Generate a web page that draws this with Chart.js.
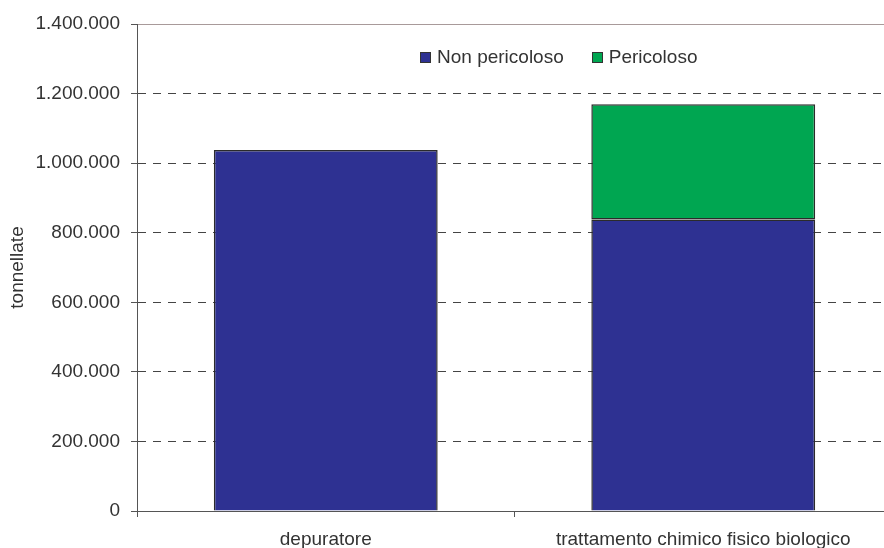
<!DOCTYPE html>
<html lang="it">
<head>
<meta charset="utf-8">
<title>Rifiuti per tipo di impianto</title>
<script src="https://cdn.jsdelivr.net/npm/chart.js@4.4.1/dist/chart.umd.min.js"></script>
<style>
    html, body { margin: 0; padding: 0; background: #fff; }
    #cornice { position: relative; width: 884px; height: 548px; overflow: hidden; }
    #area { position: relative; width: 892px; height: 548px; }
    #legenda {
        position: absolute; top: 46px; left: 420px;
        display: flex; align-items: center;
        font: 19px "Liberation Sans", Arial, sans-serif; color: #333;
    }
    #legenda .voce { display: flex; align-items: center; margin-right: 28px; }
    #legenda .quadro { width: 9px; height: 9px; border: 1px solid #333; margin-right: 6px; }
</style>
</head>
<body>
<div id="cornice">
    <div id="area"><canvas id="graficoImpianti"></canvas></div>
    <div id="legenda"></div>
</div>
<script>
const categorie = ['depuratore', 'trattamento chimico fisico biologico'];
const nonPericoloso = [1038000, 838000];
const pericoloso = [0, 331000];
const yMax = 1400000;
const yPasso = 200000;

const BLU = '#2e3192';
const VERDE = '#00a651';
const TESTO = '#333333';

function formatoIt(v) {
    return String(v).replace(/\B(?=(\d{3})+(?!\d))/g, '.');
}

document.addEventListener('DOMContentLoaded', function() {
    const canvas = document.getElementById('graficoImpianti');
    Chart.defaults.font.family = '"Liberation Sans", Arial, sans-serif';
    Chart.defaults.font.size = 19;
    Chart.defaults.color = TESTO;

    const chart = new Chart(canvas.getContext('2d'), {
        type: 'bar',
        data: {
            labels: categorie,
            datasets: [{
                label: 'Non pericoloso',
                data: nonPericoloso,
                backgroundColor: BLU,
                borderColor: '#2b2b2b',
                borderWidth: 1.5,
                inflateAmount: 0
            }, {
                label: 'Pericoloso',
                data: pericoloso,
                backgroundColor: VERDE,
                borderColor: '#2b2b2b',
                borderWidth: 1.5,
                borderSkipped: false,
                inflateAmount: 0
            }]
        },
        options: {
            responsive: true,
            maintainAspectRatio: false,
            animation: false,
            layout: { padding: { top: 24, left: 0, right: 0, bottom: 0 } },
            datasets: { bar: { categoryPercentage: 1, barPercentage: 0.593 } },
            plugins: {
                legend: { display: false },
                tooltip: { enabled: false }
            },
            scales: {
                x: {
                    stacked: true,
                    afterFit: s => { s.height = 37; },
                    grid: {
                        offset: true,
                        drawOnChartArea: false,
                        tickLength: 6,
                        tickColor: '#555'
                    },
                    border: { color: '#555' },
                    ticks: { padding: 11, maxRotation: 0, autoSkip: false, color: TESTO }
                },
                cornice: {
                    type: 'category',
                    position: 'top',
                    afterFit: s => { s.height = 0; },
                    grid: { display: false },
                    ticks: { display: false },
                    border: { color: '#a89a9a' }
                },
                y: {
                    stacked: true,
                    min: 0,
                    max: yMax,
                    afterFit: s => { s.width = 137; },
                    title: {
                        display: true,
                        text: 'tonnellate',
                        color: TESTO,
                        padding: { top: 6, bottom: 0 }
                    },
                    grid: {
                        color: ctx => (ctx.tick && (ctx.tick.value === 0 || ctx.tick.value === yMax)) ? 'rgba(0,0,0,0)' : '#444',
                        tickLength: 6,
                        tickColor: '#555'
                    },
                    border: { color: '#555', dash: [8, 7] },
                    ticks: {
                        stepSize: yPasso,
                        padding: 11,
                        color: TESTO,
                        callback: v => formatoIt(v)
                    }
                }
            }
        }
    });

    // legenda in HTML dentro l'area del grafico
    const legenda = document.getElementById('legenda');
    chart.options.plugins.legend.labels.generateLabels(chart).forEach(item => {
        const voce = document.createElement('div');
        voce.className = 'voce';
        const quadro = document.createElement('span');
        quadro.className = 'quadro';
        quadro.style.background = item.fillStyle;
        const testo = document.createElement('span');
        testo.textContent = item.text;
        voce.appendChild(quadro);
        voce.appendChild(testo);
        legenda.appendChild(voce);
    });
});
</script>
</body>
</html>
